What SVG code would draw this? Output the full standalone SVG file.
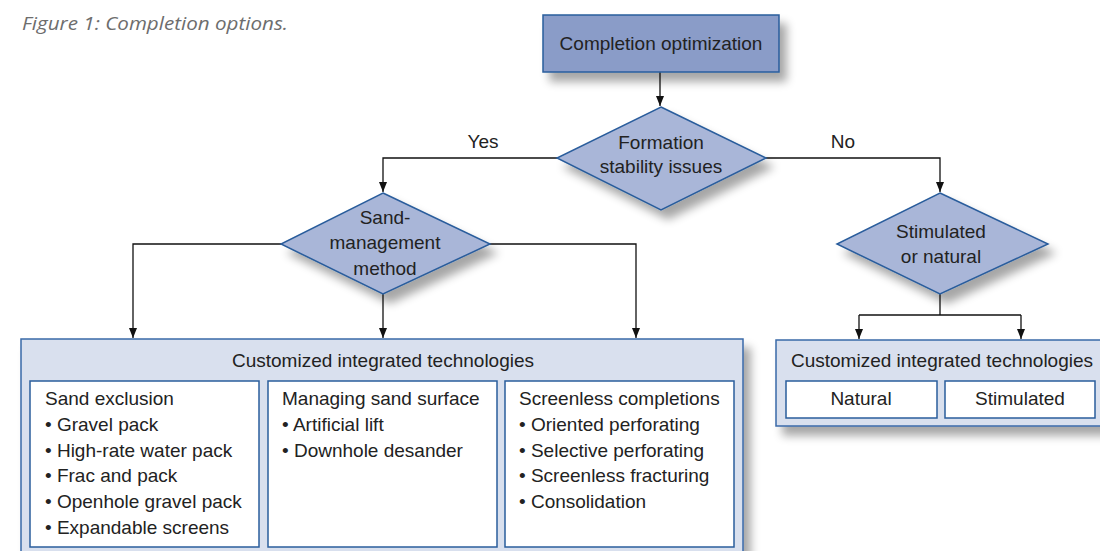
<svg xmlns="http://www.w3.org/2000/svg" width="1100" height="551" viewBox="0 0 1100 551">
<defs>
<filter id="sh" x="-20%" y="-20%" width="150%" height="160%">
<feGaussianBlur in="SourceAlpha" stdDeviation="5"/>
<feOffset dx="7" dy="9" result="b"/>
<feComponentTransfer><feFuncA type="linear" slope="0.35"/></feComponentTransfer>
<feMerge><feMergeNode/><feMergeNode in="SourceGraphic"/></feMerge>
</filter>
<marker id="ah" viewBox="0 0 10 10" refX="10" refY="5" markerWidth="10" markerHeight="10" markerUnits="userSpaceOnUse" orient="auto">
<path d="M0,1 L10,5 L0,9 z" fill="#111"/>
</marker>
</defs>
<style>
text{font-family:"Liberation Sans Narrow","Liberation Sans",sans-serif;fill:#222;font-size:19px}
.c{text-anchor:middle}
.cap{font-family:"Open Sans","Liberation Sans",sans-serif;font-style:italic;fill:#6d6d6d;font-size:19px}
.top{fill:#8a9cc8;stroke:#2a5d9c;stroke-width:1.5}
.dia{fill:#a9b6d8;stroke:#2a5d9c;stroke-width:1.5}
.outer{fill:#d9e0ee;stroke:#3a6aa8;stroke-width:1.5}
.inner{fill:#fff;stroke:#2a5d9c;stroke-width:1.5}
.ln{fill:none;stroke:#111;stroke-width:1.3}
</style>
<text class="cap" x="22" y="30" textLength="266" lengthAdjust="spacingAndGlyphs">Figure 1: Completion options.</text>
<g id="connectors">
<path class="ln" d="M660,72 V106" marker-end="url(#ah)"/>
<path class="ln" d="M557,158 H383 V192" marker-end="url(#ah)"/>
<path class="ln" d="M766,158 H940 V192" marker-end="url(#ah)"/>
<path class="ln" d="M281,244 H133 V338" marker-end="url(#ah)"/>
<path class="ln" d="M490,244 H636 V338" marker-end="url(#ah)"/>
<path class="ln" d="M383,294 V338" marker-end="url(#ah)"/>
<path class="ln" d="M940,294 V315"/>
<path class="ln" d="M859,315 H1021"/>
<path class="ln" d="M859,315 V339" marker-end="url(#ah)"/>
<path class="ln" d="M1021,315 V339" marker-end="url(#ah)"/>
<text class="c" x="483" y="148">Yes</text>
<text class="c" x="843" y="148">No</text>
</g>
<g id="completion-optimization">
<rect class="top" x="543" y="15" width="236" height="57" filter="url(#sh)"/>
<text class="c" x="661" y="50">Completion optimization</text>
</g>
<g id="formation-stability">
<polygon class="dia" points="661,107 766,158 661,210 557,158" filter="url(#sh)"/>
<text class="c" x="661" y="149">Formation</text>
<text class="c" x="661" y="173">stability issues</text>
</g>
<g id="sand-management">
<polygon class="dia" points="383,193 490,244 383,294 281,244" filter="url(#sh)"/>
<text class="c" x="385" y="224">Sand-</text>
<text class="c" x="385" y="249">management</text>
<text class="c" x="385" y="275">method</text>
</g>
<g id="stimulated-natural">
<polygon class="dia" points="940,193 1048,244 940,294 837,244" filter="url(#sh)"/>
<text class="c" x="941" y="238">Stimulated</text>
<text class="c" x="941" y="263">or natural</text>
</g>
<g id="left-technologies">
<rect class="outer" x="21" y="339" width="722" height="220" filter="url(#sh)"/>
<text class="c" x="383" y="367">Customized integrated technologies</text>
<rect class="inner" x="30" y="381" width="229" height="166"/>
<rect class="inner" x="268" y="381" width="229" height="166"/>
<rect class="inner" x="505" y="381" width="229" height="166"/>
<text x="45" y="405">Sand exclusion</text>
<text x="45" y="431">• Gravel pack</text>
<text x="45" y="457">• High-rate water pack</text>
<text x="45" y="482">• Frac and pack</text>
<text x="45" y="508">• Openhole gravel pack</text>
<text x="45" y="534">• Expandable screens</text>
<text x="282" y="405">Managing sand surface</text>
<text x="282" y="431">• Artificial lift</text>
<text x="282" y="457">• Downhole desander</text>
<text x="519" y="405">Screenless completions</text>
<text x="519" y="431">• Oriented perforating</text>
<text x="519" y="457">• Selective perforating</text>
<text x="519" y="482">• Screenless fracturing</text>
<text x="519" y="508">• Consolidation</text>
</g>
<g id="right-technologies">
<rect class="outer" x="776" y="340" width="330" height="86" filter="url(#sh)"/>
<text class="c" x="942" y="367">Customized integrated technologies</text>
<rect class="inner" x="786" y="381" width="151" height="37"/>
<rect class="inner" x="945" y="381" width="150" height="37"/>
<text class="c" x="861" y="405">Natural</text>
<text class="c" x="1020" y="405">Stimulated</text>
</g>
</svg>
